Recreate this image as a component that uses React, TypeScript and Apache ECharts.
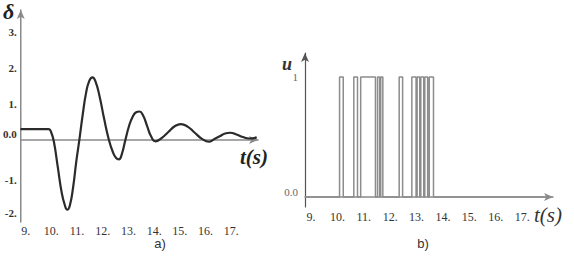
import React, { useEffect, useRef } from "react";
import * as echarts from "echarts";

// Left chart (a): rotor angle δ over time t (s)
const deltaT = [8.8, 9.7, 9.9, 10.0, 10.1, 10.25, 10.4, 10.52, 10.62, 10.72, 10.85, 10.97, 11.09, 11.22, 11.35, 11.48, 11.6, 11.72, 11.88, 12.05, 12.24, 12.4, 12.52, 12.63, 12.74, 12.88, 13.02, 13.16, 13.3, 13.43, 13.57, 13.72, 13.88, 14.05, 14.3, 14.55, 14.8, 15.04, 15.3, 15.58, 15.86, 16.13, 16.33, 16.55, 16.76, 16.96, 17.2, 17.45, 17.7, 17.99];
const deltaV = [0.3, 0.3, 0.3, 0.2, -0.05, -0.75, -1.45, -1.8, -1.94, -1.82, -1.3, -0.6, 0.0, 0.7, 1.3, 1.65, 1.74, 1.62, 1.2, 0.6, 0.0, -0.35, -0.5, -0.54, -0.4, 0.0, 0.38, 0.64, 0.77, 0.79, 0.68, 0.4, 0.1, -0.04, 0.06, 0.22, 0.38, 0.44, 0.37, 0.2, 0.03, -0.05, 0.02, 0.1, 0.18, 0.2, 0.15, 0.08, 0.04, 0.07];

// Right chart (b): control signal u, pulses (start, end) where u = 1
const pulseStart = [10.08, 10.62, 10.88, 11.52, 11.64, 12.34, 12.82, 13.02, 13.16, 13.31, 13.48];
const pulseEnd = [10.22, 10.76, 11.44, 11.6, 11.72, 12.47, 12.98, 13.12, 13.27, 13.42, 13.64];
const uStartT = 8.77;
const uEndT = 18.1;

// Tick labels
const xTicks = [9, 10, 11, 12, 13, 14, 15, 16, 17];
const yLeftLabelPos = [3, 2, 1, 0.17, -1.1, -2.03];
const yLeftLabelText = ["3.", "2.", "1.", "0.0", "-1.", "-2."];
const yRightLabelPos = [1, 0.04];
const yRightLabelText = ["1", "0.0"];

const SERIF = "Liberation Serif";
const SANS = "Liberation Sans";

export default function App() {
  const ref = useRef<HTMLDivElement>(null);
  useEffect(() => {
    if (!ref.current) return;
    const chart = echarts.init(ref.current, undefined, { renderer: "svg" });

    const deltaData = deltaT.map((t, i) => [t, deltaV[i]]);
    const uData: number[][] = [[uStartT, 0]];
    pulseStart.forEach((s, i) => {
      uData.push([s, 0], [s, 1], [pulseEnd[i], 1], [pulseEnd[i], 0]);
    });
    uData.push([uEndT, 0]);

    const xLabel = {
      customValues: xTicks,
      formatter: (v: number) => `${v}.`,
      color: "#333",
      fontFamily: SERIF,
      fontSize: 12,
      margin: 3,
    };

    chart.setOption({
      animation: false,
      backgroundColor: "#fff",
      grid: [
        { left: 18, top: 10, width: 240, height: 212 },
        { left: 305, top: 53, width: 248, height: 154 },
      ],
      xAxis: [
        {
          type: "value",
          gridIndex: 0,
          min: 8.81,
          max: 18.04,
          splitLine: { show: false },
          axisTick: { show: false },
          axisLine: {
            onZero: true,
            symbol: ["none", "arrow"],
            symbolSize: [6, 9],
            lineStyle: { color: "#8a8a8a", width: 1.5 },
          },
          axisLabel: xLabel,
        },
        {
          type: "value",
          gridIndex: 1,
          min: 8.77,
          max: 18.17,
          splitLine: { show: false },
          axisTick: { show: false },
          axisLine: {
            onZero: true,
            symbol: ["none", "arrow"],
            symbolSize: [6, 9],
            lineStyle: { color: "#8a8a8a", width: 1.5 },
          },
          axisLabel: { ...xLabel, margin: 4 },
        },
      ],
      yAxis: [
        {
          type: "value",
          gridIndex: 0,
          min: -2.28,
          max: 3.61,
          splitLine: { show: false },
          axisTick: { show: false },
          axisLine: {
            show: true,
            onZero: false,
            symbol: ["none", "arrow"],
            symbolSize: [6, 9],
            lineStyle: { color: "#8a8a8a", width: 1.5 },
          },
          axisLabel: {
            customValues: yLeftLabelPos,
            formatter: (v: number) => yLeftLabelText[yLeftLabelPos.indexOf(v)] ?? "",
            color: "#333",
            fontFamily: SERIF,
            fontWeight: "bold",
            fontSize: 11,
            margin: 4,
          },
        },
        {
          type: "value",
          gridIndex: 1,
          min: -0.083,
          max: 1.2,
          splitLine: { show: false },
          axisTick: { show: false },
          axisLine: {
            show: true,
            onZero: false,
            symbol: ["none", "arrow"],
            symbolSize: [6, 9],
            lineStyle: { color: "#555", width: 1.2 },
          },
          axisLabel: {
            customValues: yRightLabelPos,
            formatter: (v: number) => yRightLabelText[yRightLabelPos.indexOf(v)] ?? "",
            color: "#666",
            fontFamily: SERIF,
            fontSize: 11,
            margin: 7,
          },
        },
      ],
      series: [
        {
          type: "line",
          xAxisIndex: 0,
          yAxisIndex: 0,
          data: deltaData,
          smooth: 0.5,
          showSymbol: false,
          lineStyle: { color: "#2b2b2b", width: 2.2 },
        },
        {
          type: "line",
          xAxisIndex: 1,
          yAxisIndex: 1,
          data: uData,
          showSymbol: false,
          lineStyle: { color: "#8c8c8c", width: 1.5 },
        },
      ],
      graphic: [
        {
          type: "text",
          left: 3,
          top: 0,
          style: { text: "δ", font: `italic bold 22px ${SERIF}`, fill: "#222" },
        },
        {
          type: "text",
          x: 240,
          y: 157,
          style: { text: "t(s)", font: `italic bold 21px ${SERIF}`, fill: "#222", verticalAlign: "middle" },
        },
        {
          type: "text",
          x: 282,
          y: 64,
          style: { text: "u", font: `italic bold 18px ${SERIF}`, fill: "#333", verticalAlign: "middle" },
        },
        {
          type: "text",
          x: 534,
          y: 215,
          style: { text: "t(s)", font: `italic 21px ${SERIF}`, fill: "#333", verticalAlign: "middle" },
        },
        {
          type: "text",
          x: 160,
          y: 243,
          style: { text: "a)", font: `13px ${SANS}`, fill: "#333", align: "center", verticalAlign: "middle" },
        },
        {
          type: "text",
          x: 423,
          y: 243,
          style: { text: "b)", font: `13px ${SANS}`, fill: "#333", align: "center", verticalAlign: "middle" },
        },
      ],
    });
    return () => chart.dispose();
  }, []);
  return (
    <div
      ref={ref}
      style={{ position: "fixed", left: 0, top: 0, width: 574, height: 258, background: "#fff" }}
    />
  );
}
